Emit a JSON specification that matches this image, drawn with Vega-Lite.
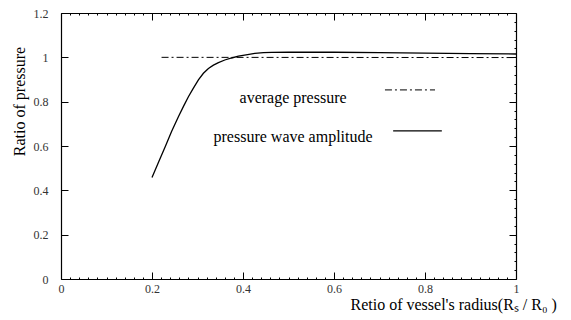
{
  "$schema": "https://vega.github.io/schema/vega-lite/v6.json",
  "width": 455,
  "height": 266,
  "autosize": "none",
  "padding": {"left": 61, "top": 13, "right": 55, "bottom": 41},
  "background": "white",
  "config": {
    "view": {"stroke": null},
    "font": "Liberation Serif, Times New Roman, serif",
    "axis": {"labelFont": "Liberation Serif, Times New Roman, serif", "titleFont": "Liberation Serif, Times New Roman, serif", "labelColor": "#333", "titleColor": "#000", "domainColor": "#000", "tickColor": "#000", "grid": false, "labelFontSize": 12, "titleFontWeight": "normal", "domainWidth": 1.2, "tickWidth": 1}
  },
  "datasets": {
    "avg": [
      {"x": 0.221, "y": 1.0},
      {"x": 1.0, "y": 0.999}
    ],
    "wave": [
      {"x": 0.2, "y": 0.458},
      {"x": 0.215, "y": 0.53},
      {"x": 0.229, "y": 0.597},
      {"x": 0.243, "y": 0.665},
      {"x": 0.258, "y": 0.732},
      {"x": 0.27, "y": 0.782},
      {"x": 0.28, "y": 0.822},
      {"x": 0.29, "y": 0.858},
      {"x": 0.302, "y": 0.898},
      {"x": 0.313, "y": 0.928},
      {"x": 0.324, "y": 0.95},
      {"x": 0.335, "y": 0.965},
      {"x": 0.346, "y": 0.976},
      {"x": 0.36, "y": 0.988},
      {"x": 0.375, "y": 0.997},
      {"x": 0.39, "y": 1.005},
      {"x": 0.41, "y": 1.012},
      {"x": 0.426, "y": 1.018},
      {"x": 0.445, "y": 1.021},
      {"x": 0.463, "y": 1.022},
      {"x": 0.5, "y": 1.023},
      {"x": 0.6, "y": 1.023},
      {"x": 0.7, "y": 1.021},
      {"x": 0.8, "y": 1.019},
      {"x": 0.9, "y": 1.017},
      {"x": 1.0, "y": 1.015}
    ],
    "legendText": [
      {"x": 0.51, "y": 0.816, "label": "average pressure"},
      {"x": 0.51, "y": 0.64, "label": "pressure wave amplitude"}
    ],
    "legendAvg": [{"x": 0.712, "x2": 0.822, "y": 0.853}],
    "legendWave": [{"x": 0.73, "x2": 0.837, "y": 0.668}]
  },
  "layer": [
    {
      "data": {"name": "avg"},
      "mark": {"type": "line", "color": "#000", "strokeWidth": 1, "strokeDash": [7, 3, 2, 3]},
      "encoding": {
        "x": {"field": "x", "type": "quantitative", "scale": {"domain": [0, 1], "nice": false},
          "axis": {"orient": "bottom", "title": "Retio of vessel's radius(Rₛ / R₀ )", "titleFontSize": 16, "titleX": 289, "titleY": 30, "titleAlign": "left", "titleBaseline": "alphabetic",
            "values": [0,0.02,0.04,0.06,0.08,0.1,0.12,0.14,0.16,0.18,0.2,0.22,0.24,0.26,0.28,0.3,0.32,0.34,0.36,0.38,0.4,0.42,0.44,0.46,0.48,0.5,0.52,0.54,0.56,0.58,0.6,0.62,0.64,0.66,0.68,0.7,0.72,0.74,0.76,0.78,0.8,0.82,0.84,0.86,0.88,0.9,0.92,0.94,0.96,0.98,1],
            "labelExpr": "abs(datum.value*5-round(datum.value*5))<0.001 ? format(datum.value, '~g') : ''",
            "tickSize": {"condition": {"test": "abs(datum.value*5-round(datum.value*5))<0.001", "value": -7}, "value": -2},
            "labelPadding": 11, "labelFlush": false, "labelOverlap": false}},
        "y": {"field": "y", "type": "quantitative", "scale": {"domain": [0, 1.2], "nice": false},
          "axis": {"orient": "left", "title": "Ratio of pressure", "titleFontSize": 16, "titleX": -42, "titleY": 88, "titleAngle": 270, "titleAlign": "center", "titleBaseline": "middle",
            "values": [0, 0.2, 0.4, 0.6, 0.8, 1, 1.2], "format": "~g", "tickSize": -7, "labelPadding": 20, "labelOverlap": false, "labelFlush": false}}
      }
    },
    {
      "data": {"name": "wave"},
      "mark": {"type": "line", "color": "#000", "strokeWidth": 1.3},
      "encoding": {
        "x": {"field": "x", "type": "quantitative", "scale": {"domain": [0, 1], "nice": false},
          "axis": {"orient": "top", "title": null, "labels": false,
            "values": [0,0.02,0.04,0.06,0.08,0.1,0.12,0.14,0.16,0.18,0.2,0.22,0.24,0.26,0.28,0.3,0.32,0.34,0.36,0.38,0.4,0.42,0.44,0.46,0.48,0.5,0.52,0.54,0.56,0.58,0.6,0.62,0.64,0.66,0.68,0.7,0.72,0.74,0.76,0.78,0.8,0.82,0.84,0.86,0.88,0.9,0.92,0.94,0.96,0.98,1],
            "tickSize": {"condition": {"test": "abs(datum.value*5-round(datum.value*5))<0.001", "value": -7}, "value": -2}}},
        "y": {"field": "y", "type": "quantitative", "scale": {"domain": [0, 1.2], "nice": false},
          "axis": {"orient": "right", "title": null, "labels": false,
            "values": [0,0.04,0.08,0.12,0.16,0.2,0.24,0.28,0.32,0.36,0.4,0.44,0.48,0.52,0.56,0.6,0.64,0.68,0.72,0.76,0.8,0.84,0.88,0.92,0.96,1,1.04,1.08,1.12,1.16,1.2],
            "tickSize": {"condition": {"test": "abs(datum.value*5-round(datum.value*5))<0.001", "value": -7}, "value": -2}}}
      }
    },
    {
      "data": {"name": "legendText"},
      "mark": {"type": "text", "font": "Liberation Serif, Times New Roman, serif", "fontSize": 16, "color": "#000", "align": "center", "baseline": "middle"},
      "encoding": {
        "x": {"field": "x", "type": "quantitative", "scale": {"domain": [0, 1], "nice": false}, "axis": null},
        "y": {"field": "y", "type": "quantitative", "scale": {"domain": [0, 1.2], "nice": false}, "axis": null},
        "text": {"field": "label"}
      }
    },
    {
      "data": {"name": "legendAvg"},
      "mark": {"type": "rule", "color": "#000", "strokeWidth": 1, "strokeDash": [7, 3, 2, 3]},
      "encoding": {
        "x": {"field": "x", "type": "quantitative", "scale": {"domain": [0, 1], "nice": false}, "axis": null},
        "x2": {"field": "x2"},
        "y": {"field": "y", "type": "quantitative", "scale": {"domain": [0, 1.2], "nice": false}, "axis": null}
      }
    },
    {
      "data": {"name": "legendWave"},
      "mark": {"type": "rule", "color": "#000", "strokeWidth": 1.3},
      "encoding": {
        "x": {"field": "x", "type": "quantitative", "scale": {"domain": [0, 1], "nice": false}, "axis": null},
        "x2": {"field": "x2"},
        "y": {"field": "y", "type": "quantitative", "scale": {"domain": [0, 1.2], "nice": false}, "axis": null}
      }
    }
  ],
  "resolve": {"scale": {"x": "independent", "y": "independent"}, "axis": {"x": "independent", "y": "independent"}}
}
